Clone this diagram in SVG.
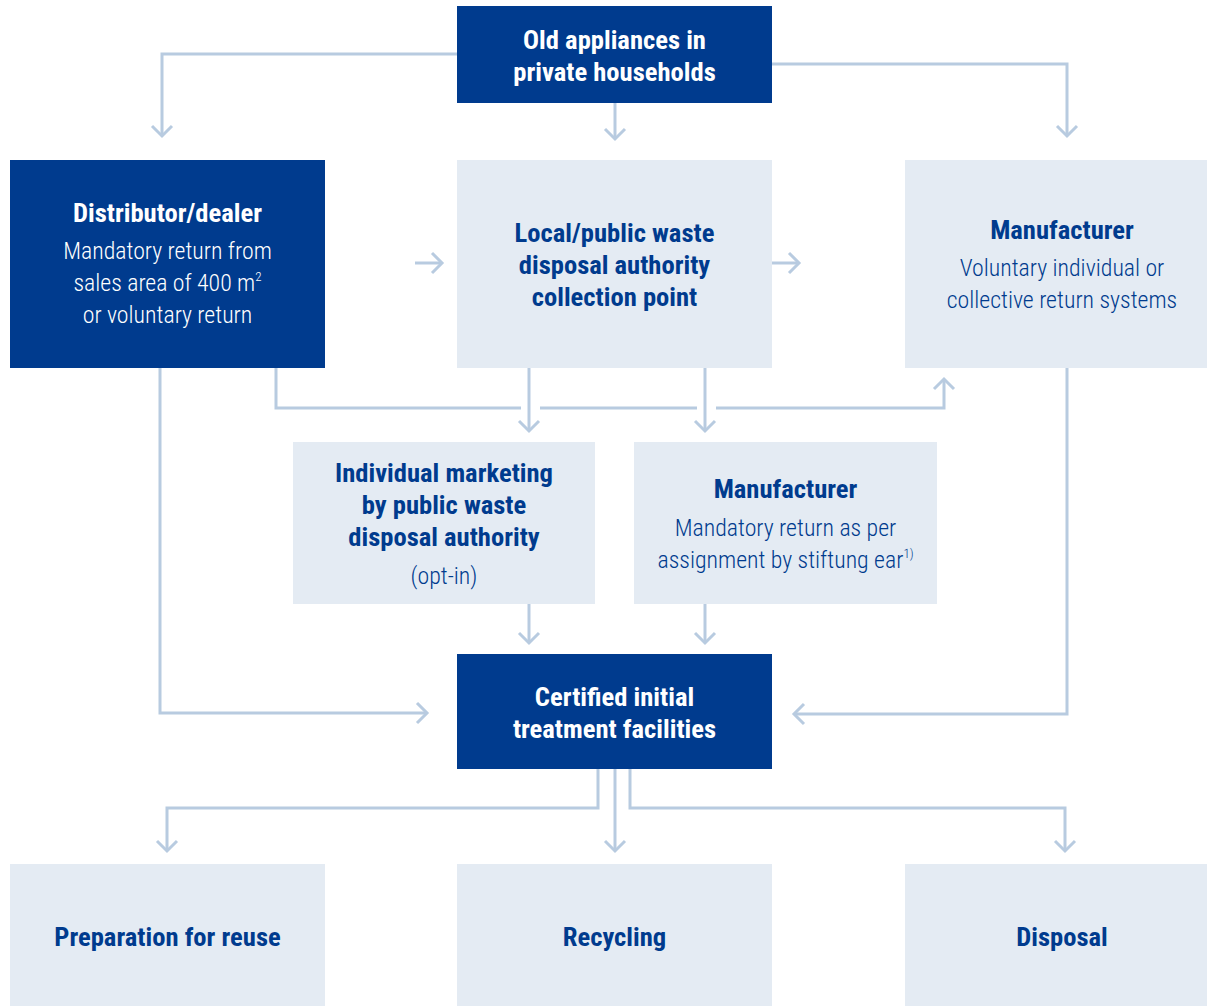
<svg xmlns="http://www.w3.org/2000/svg" width="1207" height="1006" viewBox="0 0 1207 1006">
<defs>
<style>
.dark{fill:#003B8E}
.light{fill:#E4EBF3}
.b{font-family:"Roboto Condensed","Liberation Sans Narrow",Roboto,sans-serif;font-weight:bold;font-size:26.6px;text-anchor:middle}
.r{font-family:"Roboto Condensed","Liberation Sans Narrow",Roboto,sans-serif;font-weight:300;font-size:23.8px;text-anchor:middle}
.w{fill:#ffffff}
.t{fill:#003B8E}
.c{fill:none;stroke:#B8CBE0;stroke-width:3}
</style>
<marker id="ah" viewBox="-12 -12 24 24" markerWidth="24" markerHeight="24" markerUnits="userSpaceOnUse" orient="auto" refX="0" refY="0">
<path d="M-10,-10 L0,0 L-10,10" fill="none" stroke="#B8CBE0" stroke-width="3"/>
</marker>
</defs>
<rect width="1207" height="1006" fill="#ffffff"/>
<g id="connectors">
<path class="c" d="M457,54 H162 V136" marker-end="url(#ah)"/>
<path class="c" d="M772,64 H1067 V136" marker-end="url(#ah)"/>
<path class="c" d="M615,103 V139" marker-end="url(#ah)"/>
<path class="c" d="M415,263 H442" marker-end="url(#ah)"/>
<path class="c" d="M772,263 H799" marker-end="url(#ah)"/>
<path class="c" d="M276,368 V408 H521"/>
<path class="c" d="M540,408 H697"/>
<path class="c" d="M716,408 H944 V379" marker-end="url(#ah)"/>
<path class="c" d="M529,368 V431" marker-end="url(#ah)"/>
<path class="c" d="M705,368 V431" marker-end="url(#ah)"/>
<path class="c" d="M160,368 V713 H427" marker-end="url(#ah)"/>
<path class="c" d="M1067,368 V714 H794" marker-end="url(#ah)"/>
<path class="c" d="M529,604 V643" marker-end="url(#ah)"/>
<path class="c" d="M705,604 V643" marker-end="url(#ah)"/>
<path class="c" d="M598,769 V808 H167 V851" marker-end="url(#ah)"/>
<path class="c" d="M615,769 V851" marker-end="url(#ah)"/>
<path class="c" d="M630,769 V808 H1065 V851" marker-end="url(#ah)"/>
</g>
<g id="old-appliances">
<rect class="dark" x="457" y="6" width="315" height="97"/>
<text class="b w" x="614.5" y="49">Old appliances in</text>
<text class="b w" x="614.5" y="81">private households</text>
</g>
<g id="distributor">
<rect class="dark" x="10" y="160" width="315" height="208"/>
<text class="b w" x="167.5" y="222">Distributor/dealer</text>
<text class="r w" x="167.5" y="259">Mandatory return from</text>
<text class="r w" x="167.5" y="291">sales area of 400 m<tspan font-size="13" dy="-10">2</tspan></text>
<text class="r w" x="167.5" y="323">or voluntary return</text>
</g>
<g id="local-authority">
<rect class="light" x="457" y="160" width="315" height="208"/>
<text class="b t" x="614.5" y="242">Local/public waste</text>
<text class="b t" x="614.5" y="274">disposal authority</text>
<text class="b t" x="614.5" y="306">collection point</text>
</g>
<g id="manufacturer-voluntary">
<rect class="light" x="905" y="160" width="302" height="208"/>
<text class="b t" x="1062" y="239">Manufacturer</text>
<text class="r t" x="1062" y="276">Voluntary individual or</text>
<text class="r t" x="1062" y="308">collective return systems</text>
</g>
<g id="individual-marketing">
<rect class="light" x="293" y="442" width="302" height="162"/>
<text class="b t" x="444" y="482">Individual marketing</text>
<text class="b t" x="444" y="514">by public waste</text>
<text class="b t" x="444" y="546">disposal authority</text>
<text class="r t" x="444" y="584">(opt-in)</text>
</g>
<g id="manufacturer-mandatory">
<rect class="light" x="634" y="442" width="303" height="162"/>
<text class="b t" x="785.5" y="498">Manufacturer</text>
<text class="r t" x="785.5" y="536">Mandatory return as per</text>
<text class="r t" x="785.5" y="568">assignment by stiftung ear<tspan font-size="13" dy="-10">1)</tspan></text>
</g>
<g id="certified">
<rect class="dark" x="457" y="654" width="315" height="115"/>
<text class="b w" x="614.5" y="706">Certified initial</text>
<text class="b w" x="614.5" y="738">treatment facilities</text>
</g>
<g id="reuse">
<rect class="light" x="10" y="864" width="315" height="142"/>
<text class="b t" x="167.5" y="946">Preparation for reuse</text>
</g>
<g id="recycling">
<rect class="light" x="457" y="864" width="315" height="142"/>
<text class="b t" x="614.5" y="946">Recycling</text>
</g>
<g id="disposal">
<rect class="light" x="905" y="864" width="302" height="142"/>
<text class="b t" x="1062" y="946">Disposal</text>
</g>
</svg>
